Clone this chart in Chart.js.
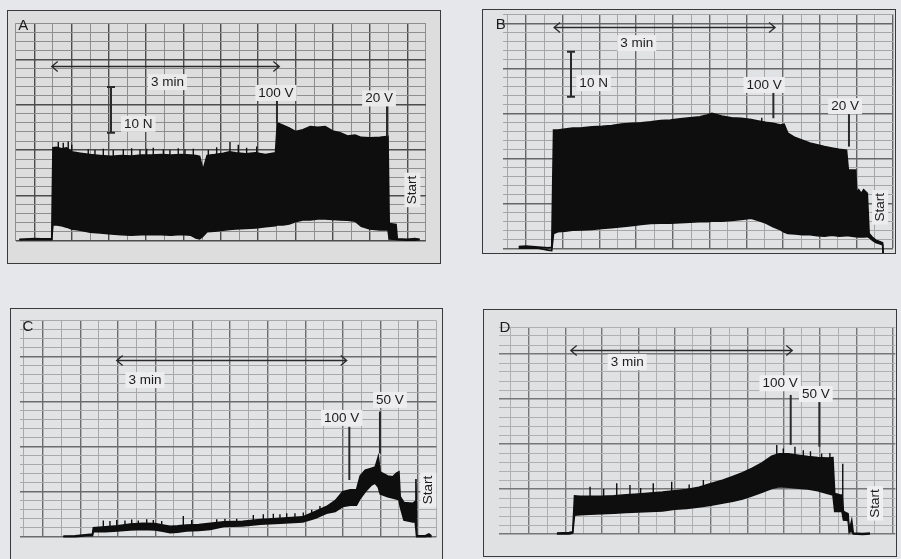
<!DOCTYPE html>
<html>
<head>
<meta charset="utf-8">
<title>Force recordings A-D</title>
<script src="https://cdn.jsdelivr.net/npm/chart.js@4.4.1/dist/chart.umd.min.js"></script>
<style>
  html, body { margin: 0; padding: 0; }
  body { width: 901px; height: 559px; overflow: hidden; position: relative; background: #e6e7ea; }
  .panel { position: absolute; border: 1px solid #3a3a3a; }
  .panel canvas { display: block; }
</style>
</head>
<body>
<div class="panel" id="panelA"><canvas id="chartA"></canvas></div>
<div class="panel" id="panelB"><canvas id="chartB"></canvas></div>
<div class="panel" id="panelC"><canvas id="chartC"></canvas></div>
<div class="panel" id="panelD"><canvas id="chartD"></canvas></div>
<script>
// time in s (one major division = 30 s), force in N (one major division = 10 N)

// A
const timeA = [18, 30, 36, 44, 45, 48, 52, 56, 60, 67, 75, 83, 92, 100, 108, 116, 124, 132, 140, 148, 156, 160, 163, 165.7, 169, 175, 182, 187, 192, 200, 208, 216, 224, 225.5, 230, 235, 240, 246, 252, 258, 264, 270, 276, 282, 288, 293, 300, 308, 314.5, 315.5, 321, 322, 330, 336, 340];
const upperA = [0.3, 0.5, 0.4, 0.4, 20.5, 20.6, 20.3, 20.5, 19.6, 19.3, 19.0, 18.8, 18.6, 18.8, 18.7, 18.9, 18.9, 19.0, 18.9, 19.0, 18.9, 18.8, 18.6, 15.6, 18.8, 19.0, 19.3, 19.6, 19.4, 19.2, 19.4, 19.0, 19.4, 26.0, 25.5, 24.9, 24.1, 24.5, 25.2, 25.0, 25.2, 24.2, 23.8, 23.1, 23.3, 22.8, 22.7, 22.8, 23.0, 3.8, 3.6, 0.4, 0.3, 0.5, 0.3];
const lowerA = [0.2, 0.2, 0.2, 0.2, 3.5, 3.5, 3.3, 3.0, 2.6, 2.3, 1.9, 1.7, 1.5, 1.3, 1.2, 1.3, 1.4, 1.3, 1.2, 1.4, 1.2, 0.6, 0.4, 1.0, 2.0, 2.1, 2.3, 2.5, 2.6, 2.7, 2.8, 3.1, 3.3, 3.5, 3.5, 3.7, 4.2, 4.6, 4.6, 4.8, 4.8, 4.7, 4.6, 4.5, 4.3, 3.2, 2.6, 2.4, 2.4, 0.4, 0.3, 0.2, 0.1, 0.1, 0.2];
const spikesA = [[49.3, 20, 21.8], [53.3, 20, 21.6], [57.3, 20, 21.9], [60.1, 19, 21.2], [73.4, 18.5, 20.2], [78.8, 18.5, 20.0], [85.5, 18.5, 20.3], [93.5, 18.3, 20.0], [101.6, 18.3, 20.2], [108.3, 18.3, 20.4], [115, 18.5, 20.1], [120.4, 18.5, 20.3], [125.7, 18.5, 20.5], [133.8, 18.5, 20.2], [139.1, 18.5, 20.0], [145.8, 18.5, 20.4], [151.2, 18.5, 20.1], [157.9, 18.5, 20.3], [170, 18.5, 20.0], [176.7, 18.5, 20.6], [187.4, 19, 21.8], [194.1, 19, 21.2], [200.8, 18.5, 20.5], [208.9, 18.5, 20.8]];

// B
const timeB = [24, 30, 40, 48, 51, 52.5, 56, 62, 68, 76, 84, 92, 100, 108, 116, 124, 132, 140, 148, 156, 164, 172, 178, 182, 190, 198, 206, 214, 220, 226, 232, 238, 241, 244, 250, 256, 262, 268, 274, 280, 286, 292, 293.5, 299.5, 300.5, 302, 304, 306, 309, 310.5, 313, 316, 319, 321.5, 322, 323.5];
const upperB = [0.4, 0.5, 0.3, 0.1, 0.2, 26.3, 26.3, 26.5, 26.7, 26.8, 27.0, 27.1, 27.3, 27.6, 27.8, 27.9, 28.1, 28.4, 28.5, 28.8, 29.0, 29.2, 29.6, 30.0, 29.4, 29.0, 28.9, 28.6, 28.3, 28.0, 27.8, 27.4, 27.6, 25.6, 24.6, 24.0, 23.4, 23.0, 22.6, 22.3, 22.0, 21.8, 17.4, 17.4, 12.2, 13.0, 12.2, 13.0, 12.2, 3.3, 2.5, 1.8, 1.5, 1.2, -1.3, -1.5];
const lowerB = [0.0, 0.1, 0.0, -0.4, -0.5, 3.3, 3.7, 3.8, 4.0, 4.1, 4.2, 4.4, 4.6, 4.8, 5.0, 5.3, 5.5, 5.6, 5.6, 5.7, 5.8, 5.9, 5.9, 6.0, 6.0, 6.2, 6.4, 6.7, 6.2, 5.6, 4.8, 4.1, 3.6, 3.3, 3.2, 3.0, 3.0, 2.8, 2.7, 2.9, 2.7, 2.8, 2.8, 2.6, 2.6, 2.5, 2.5, 2.5, 2.6, 2.4, 1.8, 1.3, 1.0, 0.8, -1.7, -1.8];
const spikesB = [[222.7, 27.8, 29.0]];

// C
const timeC = [46.5, 56, 66, 69.8, 70.5, 80, 90, 100, 110, 120, 126, 132, 138, 145, 155, 164, 175, 190, 204, 220, 238, 248, 257, 264, 270, 276, 281, 284, 288, 293, 296, 298.5, 300, 306, 310, 313, 315, 316, 319, 326, 328, 328.6, 329.2, 336, 339, 341];
const upperC = [0.15, 0.2, 0.5, 0.6, 2.0, 2.2, 2.4, 2.8, 3.0, 2.9, 2.6, 2.3, 2.4, 2.6, 2.7, 3.0, 3.3, 3.4, 3.8, 4.1, 4.4, 5.6, 6.7, 8.0, 10.0, 10.4, 10.4, 13.5, 14.8, 15.2, 15.5, 17.8, 14.4, 13.5, 13.3, 14.1, 14.4, 8.9, 7.6, 7.4, 7.8, 12.8, 0.2, 0.2, 0.6, 0.2];
const lowerC = [0, 0, 0.2, 0.2, 1.1, 1.1, 1.3, 1.5, 1.6, 1.5, 1.2, 0.9, 1.0, 1.3, 1.4, 1.6, 2.3, 2.4, 2.8, 3.0, 3.3, 4.1, 5.2, 5.6, 6.7, 7.0, 7.0, 8.5, 10.0, 11.5, 11.9, 11.0, 9.5, 8.9, 8.6, 8.4, 8.2, 6.7, 3.7, 3.3, 3.3, 3.3, 0, 0, 0.1, 0];
const spikesC = [[78.5, 2.1, 3.6], [83.8, 2.2, 3.5], [89.2, 2.3, 3.7], [95.8, 2.6, 3.6], [101.2, 2.8, 3.8], [106.5, 2.9, 3.6], [113.2, 3.0, 3.9], [118.5, 2.9, 3.7], [125.2, 2.6, 3.5], [142.5, 2.5, 4.6], [149.2, 2.6, 3.7], [169.2, 3.1, 3.9], [175.8, 3.3, 4.0], [185.2, 3.3, 4.0], [198.5, 3.6, 4.8], [206.5, 3.8, 5.0], [214.5, 4.0, 5.1], [219.8, 4.1, 5.0], [225.2, 4.2, 5.2], [231.8, 4.3, 5.2], [238.5, 4.4, 5.4], [245.2, 5.2, 6.0], [251.8, 6.0, 6.8]];

// D
const timeD = [53, 63, 66, 67.5, 72, 80, 90, 100, 110, 120, 130, 140, 150, 160, 170, 180, 190, 198, 206, 214, 222, 230, 236, 244, 252, 260, 268, 276, 280.5, 282, 286, 288, 289.2, 293, 294, 296, 297.3, 305, 311];
const upperD = [0.2, 0.3, 0.5, 8.5, 8.4, 8.4, 8.4, 8.5, 8.7, 8.9, 9.1, 9.3, 9.6, 9.9, 10.4, 11.2, 12.0, 12.8, 13.6, 14.6, 15.8, 17.3, 17.8, 17.8, 17.5, 17.2, 17.0, 16.9, 17.0, 9.0, 8.7, 8.6, 5.0, 4.5, 0.8, 3.0, 0.2, 0.1, 0.2];
const lowerD = [0, 0, 0.2, 4.2, 4.3, 4.4, 4.5, 4.6, 4.8, 4.9, 5.0, 5.1, 5.5, 5.7, 6.0, 6.4, 6.9, 7.3, 7.8, 8.5, 9.3, 10.1, 10.5, 10.4, 10.2, 10.0, 9.6, 9.0, 8.7, 5.0, 5.0, 5.0, 3.1, 3.0, 0.4, 0.6, 0, -0.1, 0];
const spikesD = [[80.3, 8.4, 10.5], [91.5, 8.4, 10.0], [102.3, 8.5, 11.3], [113.2, 8.7, 10.9], [122, 8.9, 10.2], [132.4, 9.1, 11.3], [147.6, 9.5, 11.6], [162, 9.9, 11.0], [173.7, 10.6, 12.0], [234.2, 17.5, 19.8], [239.6, 17.5, 19.0], [249.2, 17.5, 19.4], [256.1, 17.2, 18.6], [262, 17.1, 18.4], [271.2, 17, 17.9], [278, 16.9, 18.0], [288.6, 5.0, 15.6]];

// annotations, in the same units
const notesA = {
  letter: ['A', 21.2, 47.4],
  arrow: [44.0, 227.1, 38.6],
  span: ['3 min', 137.1, 35.0],
  bar: [91.7, 23.8, 33.9, '10 N', 102.2, 25.8],
  marks: [['100 V', 225.2, 25.9, 31.5, 224.4, 32.6], ['20 V', 313.7, 23.0, 30.0, 307.3, 31.4]],
  start: [334.1, 11.2]
};
const notesB = {
  letter: ['B', 9.4, 49.6],
  arrow: [52.9, 233.6, 49.2],
  span: ['3 min', 120.5, 45.6],
  bar: [66.5, 33.7, 43.7, '10 N', 73.6, 36.7],
  marks: [['100 V', 232.2, 28.9, 34.8, 224.7, 36.3], ['20 V', 294.0, 22.6, 30.0, 290.8, 31.6]],
  start: [319.4, 9.1]
};
const notesC = {
  letter: ['C', 18.2, 46.7],
  arrow: [89.2, 273.2, 39.3],
  span: ['3 min', 111.8, 34.8],
  bar: null,
  marks: [['100 V', 275.3, 12.6, 24.4, 269.2, 26.4], ['50 V', 299.8, 18.5, 27.8, 307.8, 30.4]],
  start: [338.5, 10.4]
};
const notesD = {
  letter: ['D', 10.2, 45.7],
  arrow: [64.4, 247.0, 41.0],
  span: ['3 min', 110.9, 38.2],
  bar: null,
  marks: [['100 V', 245.7, 19.8, 30.9, 236.9, 33.5], ['50 V', 269.3, 19.4, 29.8, 266.4, 31.1]],
  start: [315.2, 6.8]
};

const ink = '#0e0e0e';
const fontFamily = '"Liberation Sans", Arial, sans-serif';

// frame [left, top, width, height] and grid box [x0, y0, x1, y1] on the page
const panels = [
  { key: 'A', frame: [7, 10, 434, 254], grid: [15.65, 23.2, 425.9, 240.7], xr: [15, 345], yr: [0, 48],
    bg: '#dddddd', box: '#eaeaea', major: '#4c4c4c', minor: '#8e8e8e',
    time: timeA, upper: upperA, lower: lowerA, spikes: spikesA, notes: notesA },
  { key: 'B', frame: [482, 9, 414, 245], grid: [502.8, 14.3, 893, 248.3], xr: [11, 330], yr: [0, 52],
    bg: '#e1e2e4', box: '#ececee', major: '#666666', minor: '#a6a6a6',
    time: timeB, upper: upperB, lower: lowerB, spikes: spikesB, notes: notesB },
  { key: 'C', frame: [10, 308, 433, 254], grid: [20.2, 320.7, 436.45, 536.7], xr: [12, 345], yr: [0, 48],
    bg: '#e2e3e5', box: '#ededef', major: '#6c6c6c', minor: '#a9a9a9',
    time: timeC, upper: upperC, lower: lowerC, spikes: spikesC, notes: notesC },
  { key: 'D', frame: [483, 309, 414, 248], grid: [498.7, 327, 895.4, 534], xr: [5, 332], yr: [0, 46],
    bg: '#e0e1e3', box: '#efeff1', major: '#777777', minor: '#b0b0b0',
    time: timeD, upper: upperD, lower: lowerD, spikes: spikesD, notes: notesD }
];

function pts(t, v) {
  return t.map((x, i) => ({ x: x, y: v[i] }));
}

function spikePts(list) {
  const out = [];
  list.forEach(([t, a, b]) => out.push({ x: t, y: a }, { x: t, y: b }, { x: t, y: null }));
  return out;
}

function boxedText(ctx, text, px, py, box) {
  const w = ctx.measureText(text).width;
  const x0 = ctx.textAlign === 'left' ? px : px - w / 2;
  ctx.fillStyle = box;
  ctx.fillRect(x0 - 3, py - 8, w + 6, 16);
  ctx.fillStyle = '#1b1b1b';
  ctx.fillText(text, px, py);
}

function notesPlugin(n, box) {
  return {
    id: 'notes',
    afterDatasetsDraw(chart) {
      const ctx = chart.ctx;
      const X = v => chart.scales.x.getPixelForValue(v);
      const Y = v => chart.scales.y.getPixelForValue(v);
      ctx.save();
      ctx.textBaseline = 'middle';
      ctx.strokeStyle = '#2a2a2a';

      ctx.font = '15px ' + fontFamily;
      ctx.textAlign = 'center';
      ctx.fillStyle = '#1b1b1b';
      ctx.fillText(n.letter[0], X(n.letter[1]), Y(n.letter[2]));

      // double arrow for 3 min
      const a0 = X(n.arrow[0]), a1 = X(n.arrow[1]), ay = Math.round(Y(n.arrow[2])) + 0.5;
      ctx.lineWidth = 1.3;
      ctx.beginPath();
      ctx.moveTo(a0, ay); ctx.lineTo(a1, ay);
      ctx.moveTo(a0 + 6, ay - 5); ctx.lineTo(a0, ay); ctx.lineTo(a0 + 6, ay + 5);
      ctx.moveTo(a1 - 6, ay - 5); ctx.lineTo(a1, ay); ctx.lineTo(a1 - 6, ay + 5);
      ctx.stroke();

      ctx.font = '13.5px ' + fontFamily;
      boxedText(ctx, n.span[0], X(n.span[1]), Y(n.span[2]), box);

      if (n.bar) {
        const bx = Math.round(X(n.bar[0])), b0 = Y(n.bar[1]), b1 = Y(n.bar[2]);
        ctx.lineWidth = 2;
        ctx.beginPath();
        ctx.moveTo(bx, b0); ctx.lineTo(bx, b1);
        ctx.moveTo(bx - 4, b0); ctx.lineTo(bx + 4, b0);
        ctx.moveTo(bx - 4, b1); ctx.lineTo(bx + 4, b1);
        ctx.stroke();
        ctx.textAlign = 'left';
        boxedText(ctx, n.bar[3], X(n.bar[4]), Y(n.bar[5]), box);
        ctx.textAlign = 'center';
      }

      n.marks.forEach(([text, t, v0, v1, lt, lv]) => {
        ctx.lineWidth = 2;
        ctx.beginPath();
        ctx.moveTo(X(t), Y(v0)); ctx.lineTo(X(t), Y(v1));
        ctx.stroke();
        boxedText(ctx, text, X(lt), Y(lv), box);
      });

      ctx.translate(X(n.start[0]), Y(n.start[1]));
      ctx.rotate(-Math.PI / 2);
      boxedText(ctx, 'Start', 0, 0, box);
      ctx.restore();
    }
  };
}

function gridTicks(step) {
  return scale => {
    const ticks = [];
    for (let v = Math.ceil(scale.min / step) * step; v <= scale.max + 1e-9; v += step) {
      ticks.push({ value: v });
    }
    scale.ticks = ticks;
  };
}

panels.forEach(p => {
  const div = document.getElementById('panel' + p.key);
  const [fx, fy, fw, fh] = p.frame;
  div.style.left = fx + 'px';
  div.style.top = fy + 'px';
  div.style.width = (fw - 2) + 'px';
  div.style.height = (fh - 2) + 'px';
  div.style.background = p.bg;

  const canvas = document.getElementById('chart' + p.key);
  const cw = fw - 2, ch = fh - 2, cx = fx + 1, cy = fy + 1;
  canvas.width = cw;
  canvas.height = ch;
  canvas.style.width = cw + 'px';
  canvas.style.height = ch + 'px';
  const [gx0, gy0, gx1, gy1] = p.grid;

  new Chart(canvas, {
    type: 'line',
    data: {
      datasets: [
        {
          data: pts(p.time, p.upper),
          borderColor: ink,
          backgroundColor: ink,
          borderWidth: 1.6,
          fill: '+1',
          clip: false
        },
        {
          data: pts(p.time, p.lower),
          borderColor: ink,
          borderWidth: 1.6,
          fill: false,
          clip: false
        },
        {
          data: spikePts(p.spikes),
          borderColor: ink,
          borderWidth: 1.4,
          fill: false,
          spanGaps: false,
          clip: false
        }
      ]
    },
    options: {
      responsive: false,
      animation: false,
      events: [],
      elements: { point: { radius: 0 }, line: { tension: 0 } },
      layout: {
        padding: { left: gx0 - cx, right: cx + cw - gx1, top: gy0 - cy, bottom: cy + ch - gy1 }
      },
      plugins: { legend: { display: false }, tooltip: { enabled: false } },
      scales: {
        x: {
          type: 'linear',
          min: p.xr[0],
          max: p.xr[1],
          afterBuildTicks: gridTicks(15),
          ticks: { display: false },
          border: { display: false },
          grid: {
            drawTicks: false,
            color: c => (c.tick.value % 30 === 0 ? p.major : p.minor),
            lineWidth: c => (c.tick.value % 30 === 0 ? 1.4 : 1)
          }
        },
        y: {
          type: 'linear',
          min: p.yr[0],
          max: p.yr[1],
          afterBuildTicks: gridTicks(2),
          ticks: { display: false },
          border: { display: false },
          grid: {
            drawTicks: false,
            color: c => (c.tick.value % 10 === 0 ? p.major : p.minor),
            lineWidth: c => (c.tick.value % 10 === 0 ? 1.4 : 1)
          }
        }
      }
    },
    plugins: [notesPlugin(p.notes, p.box)]
  });
});
</script>
</body>
</html>
